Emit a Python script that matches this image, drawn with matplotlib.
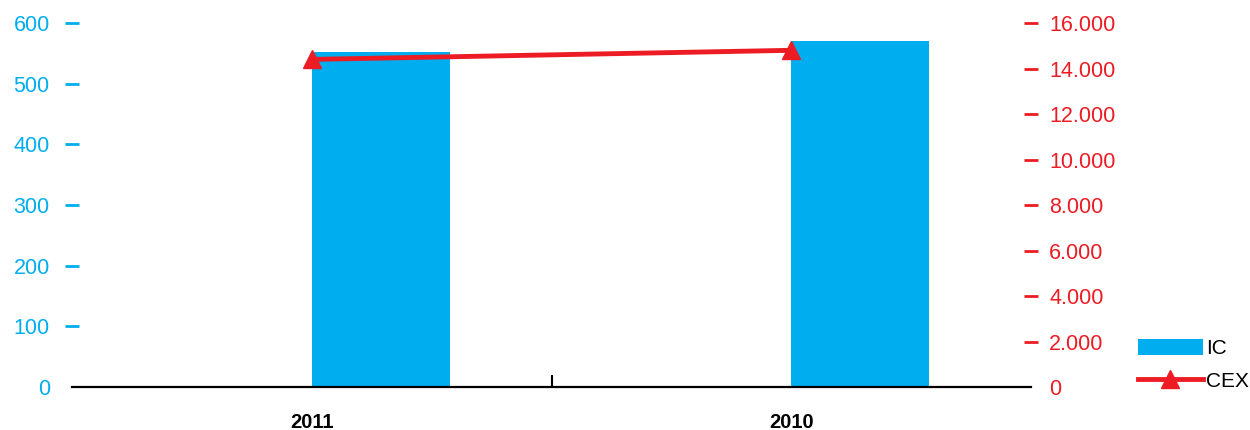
import matplotlib.pyplot as plt
from matplotlib.ticker import FuncFormatter

plt.rcParams['font.family'] = ['Liberation Sans', 'DejaVu Sans']

years = ["2011", "2010"]
ic_values = [553, 570]
cex_values = [14400, 14800]

blue = "#00AEEF"
red = "#ED1C24"

fig = plt.figure(figsize=(12.5, 4.3), dpi=100)
ax = fig.add_axes([0.0576, 0.1, 0.7672, 0.8465])
ax2 = ax.twinx()

x = list(range(len(years)))
bars = ax.bar(x, ic_values, width=0.2875, align="edge", color=blue, label="IC", zorder=2)
line, = ax2.plot(x, cex_values, color=red, linewidth=3.5, marker="^", markersize=13,
                 label="CEX", zorder=3)

ax.set_xlim(-0.5, 1.5)
ax.set_ylim(0, 600)
ax2.set_ylim(0, 16000)

for a in (ax, ax2):
    for s in a.spines.values():
        s.set_visible(False)
ax.axhline(0, color="black", linewidth=1.6, zorder=4, clip_on=False)

# x axis
ax.set_xticks(x)
ax.set_xticklabels(years, fontsize=14.5, fontweight="bold")
ax.set_xticks([0.5], minor=True)
ax.tick_params(axis="x", which="major", length=0, pad=19)
ax.tick_params(axis="x", which="minor", direction="in", length=9, width=1.5, color="black")

# left axis
ax.set_yticks(range(0, 601, 100))
ax.tick_params(axis="y", which="major", direction="inout", length=10, width=2,
               color=blue, labelcolor=blue, labelsize=15.5, pad=11)
ax.yaxis.get_major_ticks()[0].tick1line.set_visible(False)

# right axis
ax2.set_yticks(range(0, 16001, 2000))
ax2.yaxis.set_major_formatter(FuncFormatter(lambda v, p: f"{int(v):,}".replace(",", ".")))
ax2.tick_params(axis="y", which="major", direction="inout", length=10, width=2,
                color=red, labelcolor=red, labelsize=15.5, pad=8)
ax2.yaxis.get_major_ticks()[0].tick2line.set_visible(False)

fig.legend([bars, line], ["IC", "CEX"], loc="lower left", bbox_to_anchor=(0.902, 0.066),
           frameon=False, fontsize=15, handlelength=3.1, handleheight=0.85,
           handletextpad=0.15, labelspacing=0.65, borderpad=0)

fig.savefig("out.png", dpi=100)
